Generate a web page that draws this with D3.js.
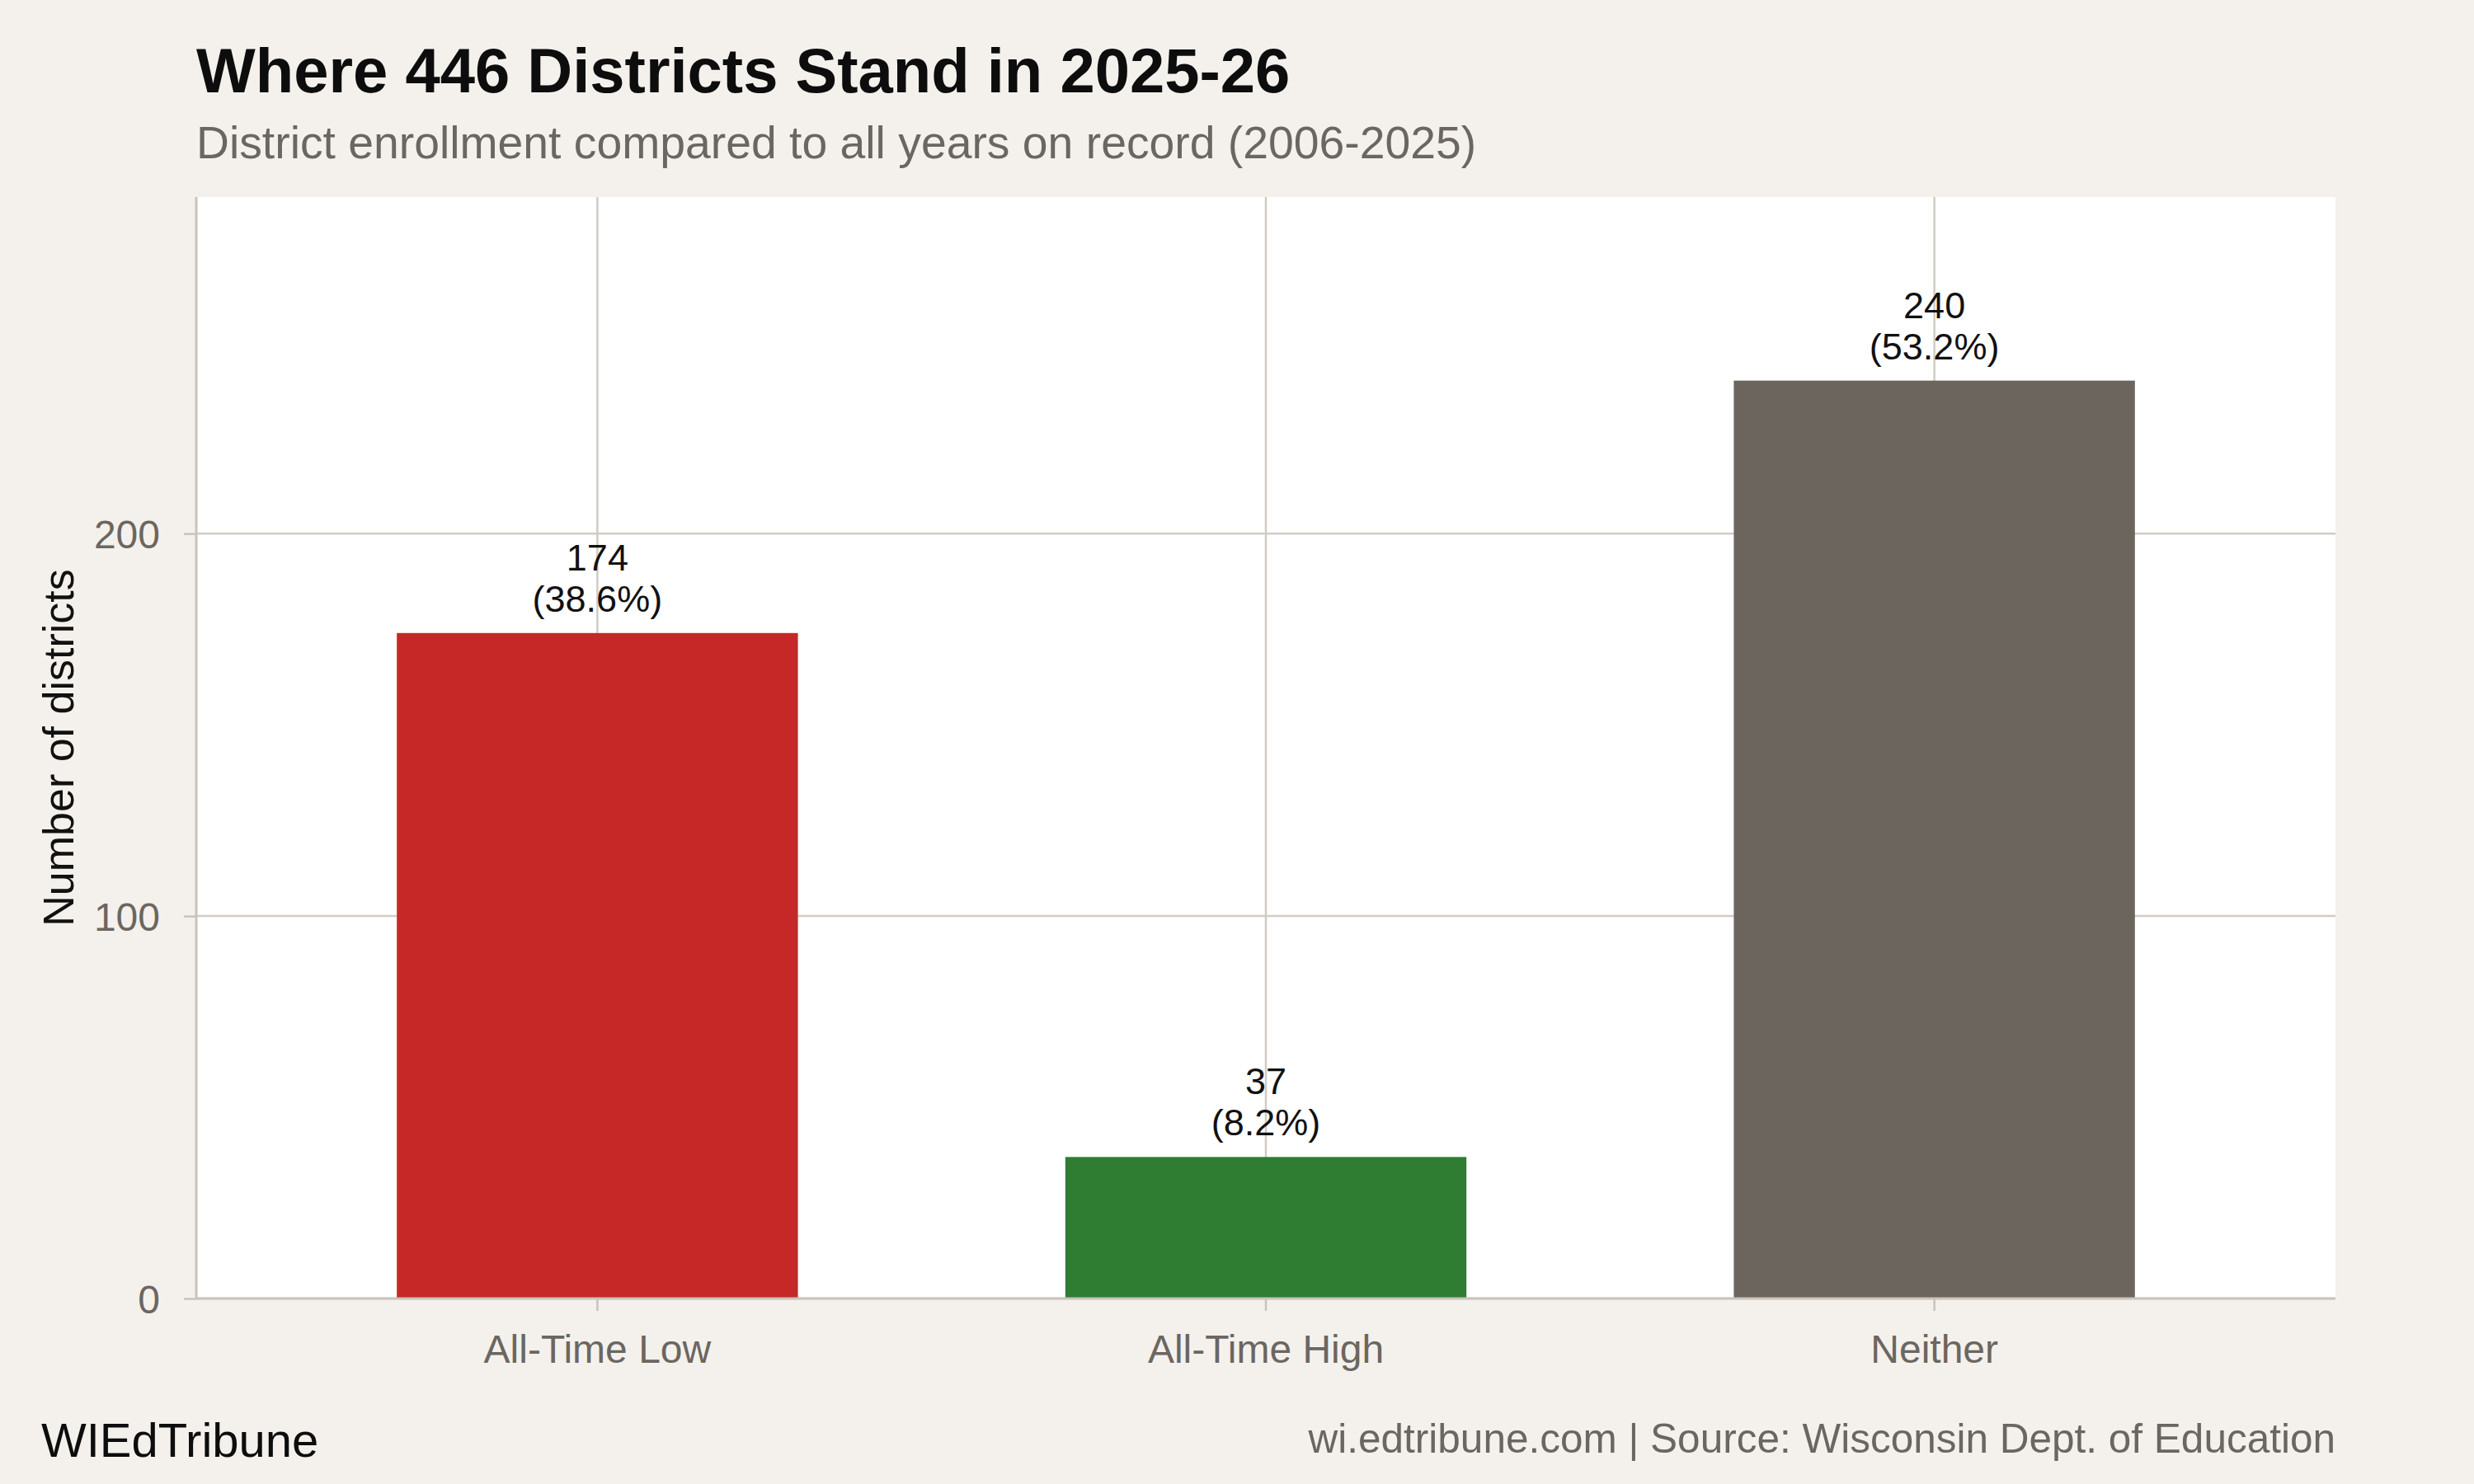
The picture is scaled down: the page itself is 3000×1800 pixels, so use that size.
<!DOCTYPE html>
<html>
<head>
<meta charset="utf-8">
<script src="https://cdn.jsdelivr.net/npm/d3@7"></script>
<style>
  html, body { margin: 0; padding: 0; background: #f4f1ec; }
  svg { display: block; }
  text { font-family: "Liberation Sans", Arial, Helvetica, sans-serif; }
</style>
</head>
<body>
<svg id="chart" width="3000" height="1800"></svg>
<script>
const categories = ["All-Time Low", "All-Time High", "Neither"];
const counts = [174, 37, 240];
const percentLabels = ["38.6%", "8.2%", "53.2%"];
const barColors = ["#c62828", "#2e7d32", "#6b655e"];
const yTicks = [0, 100, 200];
const titleText = "Where 446 Districts Stand in 2025-26";
const subtitleText = "District enrollment compared to all years on record (2006-2025)";
const yAxisTitle = "Number of districts";
const captionLeft = "WIEdTribune";
const captionRight = "wi.edtribune.com | Source: Wisconsin Dept. of Education";

const W = 3000, H = 1800;
const plot = { left: 238, right: 2832, top: 239, bottom: 1575 };
const gridColor = "#d1ccc3";
const axisColor = "#c9c4ba";
const mutedText = "#6b6661";

const svg = d3.select("#chart");
svg.append("rect").attr("width", W).attr("height", H).attr("fill", "#f4f1ec");

const x = d3.scaleBand()
  .domain(categories)
  .range([plot.left, plot.right])
  .paddingInner(0.4)
  .paddingOuter(0.3);

const y = d3.scaleLinear()
  .domain([0, d3.max(counts) * 1.2])
  .range([plot.bottom, plot.top]);

// panel
svg.append("rect")
  .attr("x", plot.left).attr("y", plot.top)
  .attr("width", plot.right - plot.left)
  .attr("height", plot.bottom - plot.top)
  .attr("fill", "#ffffff");

// gridlines
const grid = svg.append("g");
grid.selectAll("line.hy").data(yTicks).join("line")
  .attr("x1", plot.left).attr("x2", plot.right)
  .attr("y1", d => y(d)).attr("y2", d => y(d))
  .attr("stroke", gridColor).attr("stroke-width", 2.5);
grid.selectAll("line.vx").data(categories).join("line")
  .attr("x1", d => x(d) + x.bandwidth() / 2).attr("x2", d => x(d) + x.bandwidth() / 2)
  .attr("y1", plot.top).attr("y2", plot.bottom)
  .attr("stroke", gridColor).attr("stroke-width", 2.5);

// bars
const data = categories.map((c, i) => ({ c, v: counts[i], p: percentLabels[i], col: barColors[i] }));
svg.append("g").selectAll("rect").data(data).join("rect")
  .attr("x", d => x(d.c))
  .attr("width", x.bandwidth())
  .attr("y", d => y(d.v))
  .attr("height", d => y(0) - y(d.v))
  .attr("fill", d => d.col);

// bar labels
const lbl = svg.append("g").selectAll("text").data(data).join("text")
  .attr("text-anchor", "middle")
  .attr("font-size", 45)
  .attr("fill", "#111111");
lbl.append("tspan")
  .attr("x", d => x(d.c) + x.bandwidth() / 2)
  .attr("y", d => y(d.v) - 76)
  .text(d => d.v);
lbl.append("tspan")
  .attr("x", d => x(d.c) + x.bandwidth() / 2)
  .attr("y", d => y(d.v) - 26)
  .text(d => "(" + d.p + ")");

// axes
const yAxis = svg.append("g")
  .attr("transform", `translate(${plot.left},0)`)
  .call(d3.axisLeft(y).tickValues(yTicks).tickSize(15).tickPadding(29));
const xAxis = svg.append("g")
  .attr("transform", `translate(0,${plot.bottom})`)
  .call(d3.axisBottom(x).tickSize(15).tickPadding(14));

[yAxis, xAxis].forEach(g => {
  g.select(".domain").attr("stroke", axisColor).attr("stroke-width", 3);
  g.selectAll(".tick line").attr("stroke", axisColor).attr("stroke-width", 2.5);
  g.selectAll(".tick text")
    .attr("font-family", "'Liberation Sans', Arial, Helvetica, sans-serif")
    .attr("font-size", 48)
    .attr("fill", mutedText);
});
yAxis.select(".domain").attr("d", `M0,${plot.top}V${plot.bottom}`);
xAxis.select(".domain").attr("d", `M${plot.left},0H${plot.right}`);
yAxis.selectAll(".tick text").attr("dy", "0.36em");
xAxis.selectAll(".tick text").attr("dy", "0.72em").attr("y", 43);

// y axis title
svg.append("text")
  .attr("transform", `translate(89,${(plot.top + plot.bottom) / 2}) rotate(-90)`)
  .attr("text-anchor", "middle")
  .attr("font-size", 52)
  .attr("fill", "#111111")
  .text(yAxisTitle);

// title & subtitle
svg.append("text")
  .attr("x", plot.left).attr("y", 112)
  .attr("font-size", 76).attr("font-weight", "bold")
  .attr("fill", "#0d0d0d")
  .text(titleText);
svg.append("text")
  .attr("x", plot.left).attr("y", 192)
  .attr("font-size", 55.3)
  .attr("fill", mutedText)
  .text(subtitleText);

// captions
svg.append("text")
  .attr("x", 50).attr("y", 1767)
  .attr("font-size", 58)
  .attr("fill", "#0d0d0d")
  .text(captionLeft);
svg.append("text")
  .attr("x", plot.right).attr("y", 1762)
  .attr("text-anchor", "end")
  .attr("font-size", 49.5)
  .attr("fill", mutedText)
  .text(captionRight);
</script>
</body>
</html>
